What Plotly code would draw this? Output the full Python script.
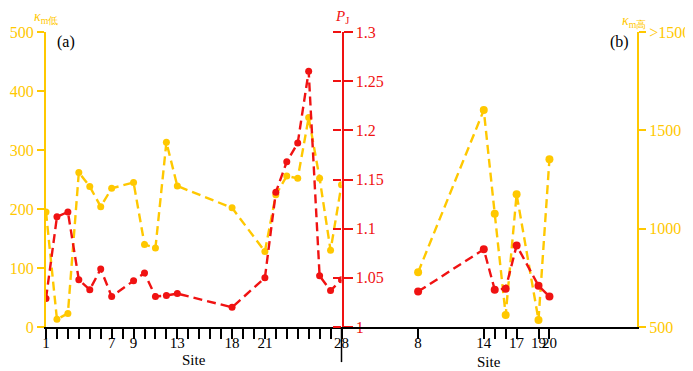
import plotly.graph_objects as go

# ---------------- data ----------------
# panel (a): low-susceptibility sites
sites_a = [1, 2, 3, 4, 5, 6, 7, 9, 10, 11, 12, 13, 18, 21, 22, 23, 24, 25, 26, 27, 28]
km_low = [195, 13, 23, 262, 238, 204, 235, 245, 140, 134, 313, 239, 202, 128, 224,
          256, 252, 355, 252, 130, 241]
pj_a = [1.029, 1.112, 1.117, 1.048, 1.038, 1.059, 1.031, 1.047, 1.055, 1.031, 1.032,
        1.034, 1.020, 1.050, 1.137, 1.168, 1.187, 1.260, 1.052, 1.037, 1.048]

# panel (b): high-susceptibility sites
sites_b = [8, 14, 15, 16, 17, 19, 20]
km_high = [778, 1603, 1076, 561, 1175, 536, 1353]
pj_b = [1.036, 1.079, 1.038, 1.039, 1.083, 1.042, 1.031]

# axis ticks
xticks_a = list(range(1, 29))
xlabels_a = ["1", "", "", "", "", "", "7", "", "9", "", "", "", "13", "", "", "", "",
             "18", "", "", "21", "", "", "", "", "", "", "28"]
xticks_b = [8, 14, 15, 16, 17, 19, 20]
xlabels_b = ["8", "14", "", "", "17", "19", "20"]
km_low_ticks = [0, 100, 200, 300, 400, 500]
pj_ticks = [1.0, 1.05, 1.1, 1.15, 1.2, 1.25, 1.3]
pj_labels = ["1", "1.05", "1.1", "1.15", "1.2", "1.25", "1.3"]
km_high_ticks = [500, 1000, 1500, 2000]
km_high_labels = ["500", "1000", "1500", ">1500"]

# ---------------- style ----------------
GOLD = "rgb(255,200,0)"
RED = "rgb(240,18,18)"
FONT = "Liberation Serif"
DASH = "9px,5px"
SPLIT = 0.5

fig = go.Figure()
fig.add_trace(go.Scatter(x=sites_a, y=km_low, mode="lines+markers", xaxis="x", yaxis="y",
                         line=dict(color=GOLD, width=2.4, dash=DASH),
                         marker=dict(color=GOLD, size=7), showlegend=False))
fig.add_trace(go.Scatter(x=sites_a, y=pj_a, mode="lines+markers", xaxis="x", yaxis="y2",
                         line=dict(color=RED, width=2.4, dash=DASH),
                         marker=dict(color=RED, size=7), showlegend=False))
fig.add_trace(go.Scatter(x=sites_b, y=km_high, mode="lines+markers", xaxis="x2", yaxis="y3",
                         line=dict(color=GOLD, width=2.4, dash=DASH),
                         marker=dict(color=GOLD, size=8), showlegend=False))
fig.add_trace(go.Scatter(x=sites_b, y=pj_b, mode="lines+markers", xaxis="x2", yaxis="y4",
                         line=dict(color=RED, width=2.4, dash=DASH),
                         marker=dict(color=RED, size=8), showlegend=False))

def x_axis(domain, anchor, vals, labels):
    return dict(domain=domain, range=[1, 28], anchor=anchor, tickmode="array",
                tickvals=vals, ticktext=labels, showline=True, linecolor="black",
                linewidth=2, ticks="outside", ticklen=10, tickwidth=1.5,
                tickcolor="black", ticklabelstandoff=-9,
                showgrid=False, zeroline=False,
                tickfont=dict(family=FONT, size=15, color="black"),
                tickangle=0)

common_y = dict(showgrid=False, zeroline=False, automargin=False,
                linewidth=2, ticks="outside", tickwidth=2, tickmode="array")

# the page body adds an 8px offset, so the figure is 8px smaller than the window
fig.update_layout(
    width=685, height=363, autosize=False,
    margin=dict(l=38, r=56, t=24, b=44, pad=0),
    paper_bgcolor="white", plot_bgcolor="white",
    font=dict(family=FONT),
    showlegend=False,
    xaxis=x_axis([0, SPLIT], "y", xticks_a, xlabels_a),
    xaxis2=x_axis([SPLIT, 1], "y3", xticks_b, xlabels_b),
    yaxis=dict(range=[0, 500], anchor="x", side="left", tickvals=km_low_ticks,
               showline=True, linecolor=GOLD, ticklen=7, tickcolor=GOLD,
               tickfont=dict(family=FONT, size=16, color=GOLD), **common_y),
    yaxis2=dict(range=[1, 1.3], overlaying="y", anchor="x", side="right",
                tickvals=pj_ticks, ticktext=pj_labels, showline=True, linecolor=RED,
                ticklen=9, tickcolor=RED,
                tickfont=dict(family=FONT, size=16, color=RED), **common_y),
    yaxis3=dict(range=[500, 2000], anchor="x2", side="right", tickvals=km_high_ticks,
                ticktext=km_high_labels, showline=True, linecolor=GOLD, ticklen=7,
                tickcolor=GOLD, tickfont=dict(family=FONT, size=16, color=GOLD),
                **common_y),
    yaxis4=dict(range=[1, 1.3], overlaying="y3", anchor="x2", side="left",
                tickvals=pj_ticks, showticklabels=False, showline=False, ticklen=8,
                tickcolor=RED, **common_y),
)

fig.add_shape(type="line", xref="paper", yref="paper", x0=SPLIT, x1=SPLIT,
              y0=0, y1=-0.119, line=dict(color="black", width=1.5))

ann = [
    dict(x=0.25, y=-0.112, text="Site", size=15, color="black"),
    dict(x=0.75, y=-0.119, text="Site", size=15, color="black"),
    dict(x=0.033, y=0.966, text="(a)", size=16, color="black"),
    dict(x=0.970, y=0.966, text="(b)", size=16, color="black"),
    dict(x=0.0, y=1.05, text="<i>κ</i><sub>m低</sub>", size=14, color=GOLD),
    dict(x=SPLIT, y=1.05, text="<i>P</i><sub>J</sub>", size=15, color=RED),
    dict(x=0.995, y=1.035, text="<i>κ</i><sub>m高</sub>", size=14, color=GOLD),
]
for a in ann:
    fig.add_annotation(x=a["x"], y=a["y"], xref="paper", yref="paper", text=a["text"],
                       showarrow=False, xanchor="center", yanchor="middle",
                       font=dict(family=FONT, size=a["size"], color=a["color"]))

fig.write_html("out.html")
